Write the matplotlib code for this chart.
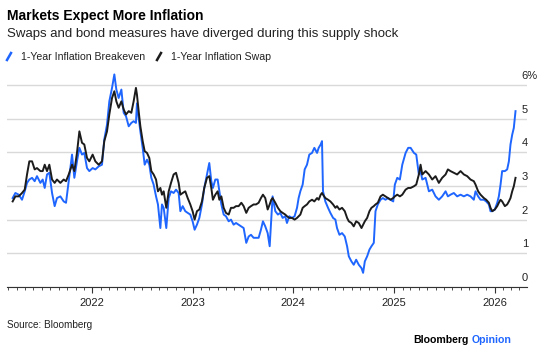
"""Markets Expect More Inflation: 1-year breakeven vs 1-year inflation swap."""

import matplotlib as mpl
import matplotlib.dates as mdates
import matplotlib.pyplot as plt
import numpy as np
import pandas as pd
from matplotlib.lines import Line2D

BLUE = "#1f66ff"
BLACK = "#1c1c1c"
GRID = "#d9d9d9"
TEXT = "#222222"

# Dates as decimal years, values in percent
t_years = [
    2021.207, 2021.234, 2021.267, 2021.300, 2021.327, 2021.350, 2021.373, 2021.400,
    2021.426, 2021.449, 2021.483, 2021.506, 2021.526, 2021.549, 2021.572, 2021.599,
    2021.625, 2021.648, 2021.682, 2021.715, 2021.738, 2021.765, 2021.798, 2021.821,
    2021.847, 2021.871, 2021.897, 2021.920, 2021.947, 2021.970, 2022.003, 2022.030,
    2022.063, 2022.096, 2022.119, 2022.146, 2022.169, 2022.196, 2022.219, 2022.239,
    2022.262, 2022.289, 2022.312, 2022.335, 2022.362, 2022.388, 2022.411, 2022.434,
    2022.444, 2022.461, 2022.478, 2022.501, 2022.521, 2022.544, 2022.567, 2022.587,
    2022.610, 2022.634, 2022.653, 2022.677, 2022.693, 2022.710, 2022.736, 2022.760,
    2022.783, 2022.809, 2022.833, 2022.859, 2022.876, 2022.899, 2022.925, 2022.949,
    2022.975, 2022.998, 2023.018, 2023.041, 2023.065, 2023.091, 2023.114, 2023.141,
    2023.164, 2023.184, 2023.200, 2023.224, 2023.247, 2023.264, 2023.284, 2023.307,
    2023.330, 2023.357, 2023.380, 2023.406, 2023.430, 2023.456, 2023.483, 2023.506,
    2023.532, 2023.556, 2023.579, 2023.605, 2023.629, 2023.655, 2023.678, 2023.698,
    2023.721, 2023.745, 2023.765, 2023.781, 2023.794, 2023.821, 2023.847, 2023.871,
    2023.894, 2023.920, 2023.937, 2023.960, 2023.987, 2024.013, 2024.037, 2024.053,
    2024.070, 2024.093, 2024.113, 2024.136, 2024.159, 2024.186, 2024.209, 2024.236,
    2024.252, 2024.272, 2024.285, 2024.295, 2024.318, 2024.345, 2024.368, 2024.395,
    2024.418, 2024.434, 2024.458, 2024.484, 2024.511, 2024.534, 2024.551, 2024.577,
    2024.600, 2024.624, 2024.650, 2024.677, 2024.693, 2024.710, 2024.733, 2024.756,
    2024.776, 2024.799, 2024.816, 2024.839, 2024.866, 2024.889, 2024.915, 2024.942,
    2024.965, 2024.992, 2025.008, 2025.032, 2025.058, 2025.082, 2025.115, 2025.141,
    2025.165, 2025.198, 2025.221, 2025.234, 2025.247, 2025.264, 2025.281, 2025.314,
    2025.347, 2025.380, 2025.413, 2025.446, 2025.479, 2025.513, 2025.536, 2025.562,
    2025.595, 2025.628, 2025.662, 2025.695, 2025.728, 2025.761, 2025.794, 2025.811,
    2025.837, 2025.861, 2025.894, 2025.917, 2025.944, 2025.960, 2025.977, 2026.003,
    2026.027, 2026.043, 2026.060, 2026.076, 2026.103, 2026.126, 2026.143, 2026.159,
    2026.176, 2026.192, 2026.209,
]

breakeven = [
    2.64, 2.79, 2.74, 2.59, 2.84, 3.09, 3.19, 3.24,
    3.14, 3.29, 3.09, 3.19, 2.94, 3.34, 3.39, 2.79,
    2.40, 2.64, 2.69, 2.54, 2.50, 3.14, 3.93, 3.24,
    3.73, 4.13, 3.93, 3.98, 3.53, 3.44, 3.53, 3.49,
    3.58, 3.63, 4.38, 4.82, 5.51, 5.91, 6.31, 5.86,
    5.61, 5.86, 5.17, 5.07, 4.77, 4.87, 4.92, 4.87,
    5.45, 5.02, 4.62, 4.13, 3.63, 3.78, 3.63, 3.24,
    3.04, 2.69, 2.45, 1.75, 2.45, 2.35, 1.75, 2.64,
    2.84, 2.79, 2.89, 2.79, 2.25, 2.40, 2.25, 2.20,
    2.15, 1.95, 1.70, 1.85, 2.05, 2.45, 2.94, 3.34,
    3.68, 3.14, 2.94, 3.19, 3.19, 2.84, 2.45, 2.15,
    2.10, 1.95, 2.00, 1.85, 1.90, 1.85, 1.80, 1.75,
    1.31, 1.50, 1.55, 1.46, 1.46, 1.46, 1.70, 1.95,
    1.80, 1.60, 1.21, 2.05, 2.69, 2.25, 2.15, 2.20,
    2.05, 2.10, 1.90, 2.10, 2.05, 2.10, 2.35, 2.64,
    2.84, 3.04, 3.49, 3.63, 3.93, 3.98, 4.13, 3.98,
    4.13, 4.23, 4.33, 2.84, 2.54, 2.35, 2.20, 2.05,
    2.00, 1.75, 1.55, 1.60, 1.50, 1.21, 0.91, 0.76,
    0.66, 0.81, 0.66, 0.56, 0.42, 0.76, 0.91, 1.11,
    1.21, 1.31, 2.25, 2.45, 2.59, 2.64, 2.59, 2.64,
    2.59, 2.54, 3.04, 3.24, 3.19, 3.63, 3.98, 4.13,
    4.13, 3.98, 3.93, 3.63, 3.34, 3.44, 3.19, 3.24,
    2.84, 2.89, 2.69, 2.59, 2.69, 2.84, 2.69, 2.74,
    2.79, 2.69, 2.74, 2.69, 2.74, 2.69, 2.59, 2.84,
    2.69, 2.59, 2.59, 2.54, 2.45, 2.25, 2.25, 2.30,
    2.50, 2.69, 3.04, 3.44, 3.44, 3.49, 3.73, 4.23,
    4.52, 4.72, 5.22,
]

swap = [
    2.54, 2.69, 2.69, 2.79, 2.89, 3.34, 3.73, 3.73,
    3.49, 3.53, 3.44, 3.44, 3.63, 3.44, 3.63, 3.19,
    3.09, 3.19, 3.09, 3.19, 3.14, 3.34, 3.63, 3.44,
    3.98, 4.62, 4.28, 4.23, 3.83, 3.73, 3.93, 3.73,
    3.63, 3.73, 4.33, 4.62, 5.12, 5.61, 5.81, 5.51,
    5.32, 5.51, 5.27, 5.12, 5.22, 5.17, 5.51, 5.91,
    5.71, 5.22, 4.77, 4.33, 4.03, 3.98, 3.83, 3.44,
    3.34, 3.19, 2.84, 2.94, 2.74, 2.84, 2.35, 2.84,
    3.09, 3.34, 3.39, 3.09, 2.74, 2.79, 2.84, 2.64,
    2.45, 2.25, 2.00, 2.25, 2.30, 2.54, 2.94, 3.24,
    3.29, 2.94, 2.59, 2.74, 2.84, 2.59, 2.69, 2.35,
    2.20, 2.15, 2.35, 2.35, 2.40, 2.40, 2.50, 2.40,
    2.20, 2.35, 2.40, 2.45, 2.45, 2.50, 2.64, 2.74,
    2.64, 2.30, 2.45, 2.59, 2.64, 2.50, 2.35, 2.25,
    2.20, 2.15, 2.10, 2.05, 2.05, 2.00, 2.05, 2.10,
    2.15, 2.35, 2.40, 2.45, 2.54, 2.59, 2.54, 2.64,
    2.59, 2.74, 2.79, 2.74, 2.64, 2.59, 2.54, 2.45,
    2.35, 2.40, 2.30, 2.35, 2.25, 2.05, 1.95, 1.90,
    1.80, 1.95, 1.90, 1.75, 1.85, 1.95, 2.05, 2.25,
    2.35, 2.40, 2.45, 2.50, 2.69, 2.74, 2.69, 2.64,
    2.59, 2.64, 2.69, 2.74, 2.69, 2.74, 2.89, 2.94,
    2.94, 2.99, 3.04, 3.19, 3.34, 3.63, 3.34, 3.44,
    3.34, 3.19, 3.29, 3.09, 3.24, 3.34, 3.49, 3.44,
    3.39, 3.34, 3.44, 3.34, 3.29, 3.19, 3.14, 3.04,
    2.84, 2.74, 2.64, 2.59, 2.50, 2.35, 2.25, 2.30,
    2.40, 2.50, 2.59, 2.54, 2.40, 2.45, 2.54, 2.64,
    2.84, 2.99, 3.24,
]

y_ticks = [0, 1, 2, 3, 4, 5, 6]
y_labels = ["0", "1", "2", "3", "4", "5", "6%"]


def to_dates(years):
    """Decimal years -> timestamps."""
    out = []
    for y in years:
        yr = int(np.floor(y))
        start = pd.Timestamp(year=yr, month=1, day=1)
        days = (pd.Timestamp(year=yr + 1, month=1, day=1) - start).days
        out.append(start + pd.Timedelta(days=(y - yr) * days))
    return pd.DatetimeIndex(out)


def main() -> None:
    mpl.rcParams.update(
        {
            "font.family": ["Liberation Sans", "DejaVu Sans"],
            "font.size": 8,
            "axes.linewidth": 0.8,
        }
    )

    W, H = 548, 352
    fig = plt.figure(figsize=(W / 100, H / 100), dpi=100)
    fig.patch.set_facecolor("white")

    # axes box in pixels: x 7..527, y 68..287
    ax = fig.add_axes([7 / W, 1 - 287 / H, 520 / W, 219 / H])
    ax.set_facecolor("white")

    dates = to_dates(t_years)
    ax.plot(dates, breakeven, color=BLUE, linewidth=1.4, solid_joinstyle="round", zorder=3)
    ax.plot(dates, swap, color=BLACK, linewidth=1.4, solid_joinstyle="round", zorder=4)

    ax.set_xlim(pd.Timestamp("2021-02-25"), pd.Timestamp("2026-04-29"))
    ax.set_ylim(0, 6.5)

    ax.set_yticks(y_ticks)
    ax.yaxis.set_tick_params(length=0, labelleft=False, labelright=False)
    ax.grid(axis="y", color=GRID, linewidth=1.0, zorder=0)
    for val, lab in zip(y_ticks, y_labels):
        ax.annotate(
            lab,
            xy=(0.990, val),
            xycoords=ax.get_yaxis_transform(),
            xytext=(0, 9),
            textcoords="offset pixels",
            ha="left",
            va="center",
            fontsize=8,
            color=TEXT,
            annotation_clip=False,
        )

    ax.xaxis.set_major_locator(mdates.YearLocator())
    ax.xaxis.set_major_formatter(mdates.DateFormatter("%Y"))
    ax.xaxis.set_minor_locator(mdates.MonthLocator())
    ax.tick_params(axis="x", which="major", length=4, width=0.8, color="#333333",
                   labelsize=8, labelcolor=TEXT, pad=4)
    ax.tick_params(axis="x", which="minor", length=2, width=0.6, color="#333333")

    for side in ("top", "right", "left"):
        ax.spines[side].set_visible(False)
    ax.spines["bottom"].set_color("#333333")

    # header
    fig.text(7 / W, 1 - 20 / H, "Markets Expect More Inflation", fontsize=10,
             fontweight="bold", color="black", va="baseline", ha="left")
    fig.text(7 / W, 1 - 37.5 / H, "Swaps and bond measures have diverged during this supply shock",
             fontsize=9.5, color=TEXT, va="baseline", ha="left")

    # legend
    fig.add_artist(Line2D([7 / W, 11 / W], [1 - 60 / H, 1 - 53 / H], color=BLUE, linewidth=1.8,
                          transform=fig.transFigure))
    fig.text(21 / W, 1 - 60 / H, "1-Year Inflation Breakeven", fontsize=7.6, color=TEXT,
             va="baseline", ha="left")
    fig.add_artist(Line2D([157 / W, 161 / W], [1 - 60 / H, 1 - 53 / H], color=BLACK, linewidth=1.8,
                          transform=fig.transFigure))
    fig.text(171 / W, 1 - 60 / H, "1-Year Inflation Swap", fontsize=7.6, color=TEXT,
             va="baseline", ha="left")

    # footer
    fig.text(7 / W, 1 - 327.7 / H, "Source: Bloomberg", fontsize=7.2, color=TEXT,
             va="baseline", ha="left")
    opinion = fig.text(512 / W, 1 - 343 / H, "Opinion", fontsize=7.6, fontweight="bold",
                       color=BLUE, va="baseline", ha="right")
    fig.canvas.draw()
    bb = opinion.get_window_extent()
    fig.text((bb.x0 - 3) / W, 1 - 343 / H, "Bloomberg", fontsize=7.6, fontweight="bold",
             color="black", va="baseline", ha="right")

    fig.savefig("out.png", dpi=100, facecolor="white")
    plt.close(fig)


if __name__ == "__main__":
    main()
